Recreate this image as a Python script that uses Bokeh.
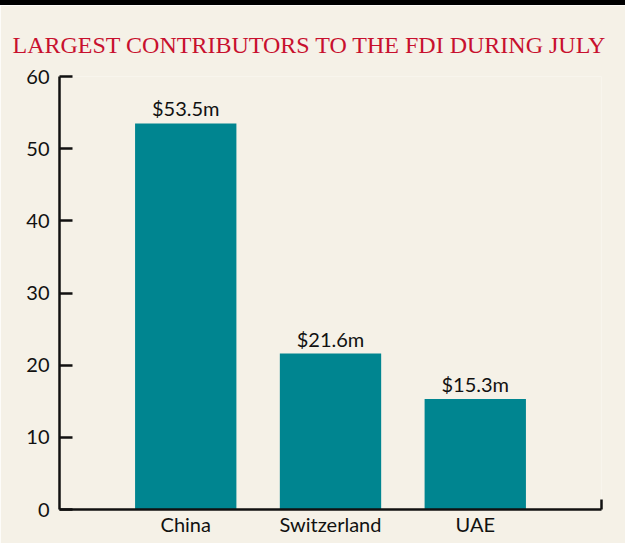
from bokeh.plotting import figure
from bokeh.models import (FactorRange, Range1d, LinearAxis, ColumnDataSource, FixedTicker, Title)
from bokeh.embed import file_html
from bokeh.resources import INLINE

countries = ["China", "Switzerland", "UAE"]
fdi_musd = [53.5, 21.6, 15.3]
bar_labels = ["$53.5m", "$21.6m", "$15.3m"]
y_ticks = [0, 10, 20, 30, 40, 50, 60]
title_text = "LARGEST CONTRIBUTORS TO THE FDI DURING JULY"

BG = "#f5f1e7"
TEAL = "#008590"
RED = "#c8102e"
INK = "#111111"
FONT = "Lato"

src = ColumnDataSource(dict(x=countries, top=fdi_musd, label=bar_labels))

p = figure(
    width=625, height=543,
    x_range=FactorRange(*countries, range_padding=0.372, range_padding_units="absolute"),
    y_range=Range1d(0, 60),
    output_backend="svg", toolbar_location=None,
    background_fill_color=BG, border_fill_color=BG,
    min_border_left=59, min_border_right=24, min_border_top=71, min_border_bottom=39,
    outline_line_color=None,
    styles={"border-top": "5px solid #000000"},
)

p.vbar(x="x", top="top", width=0.70, source=src, fill_color=TEAL, line_color=None)
p.text(x="x", y="top", text="label", source=src, text_align="center",
       text_baseline="bottom", y_offset=-3, text_font_size="20px",
       text_color=INK, text_font={"value": FONT})

p.grid.visible = False

# y axis
ya = p.yaxis[0]
ya.ticker = FixedTicker(ticks=y_ticks)
ya.major_tick_in = 13
ya.major_tick_out = 0
ya.minor_tick_line_color = None
ya.axis_line_width = 2.5
ya.major_tick_line_width = 2.5
ya.axis_line_color = INK
ya.major_tick_line_color = INK
ya.major_label_text_font = FONT
ya.major_label_text_font_size = "20px"
ya.major_label_text_color = INK
ya.major_label_standoff = 10

# x axis
xa = p.xaxis[0]
xa.major_tick_line_color = None
xa.minor_tick_line_color = None
xa.major_tick_in = 0
xa.major_tick_out = 0
xa.axis_line_width = 2.5
xa.axis_line_color = INK
xa.major_label_text_font = FONT
xa.major_label_text_font_size = "20px"
xa.major_label_text_color = INK
xa.major_label_standoff = 2

# small end tick at right of x axis
ra = LinearAxis(bounds=(0, 1.4), ticker=FixedTicker(ticks=[]),
                major_tick_line_color=None, minor_tick_line_color=None,
                major_tick_in=0, major_tick_out=0,
                axis_line_width=2.5, axis_line_color=INK)
p.add_layout(ra, "right")

# title
t = Title(text=title_text, text_font="Liberation Serif", text_font_size="24px",
          text_color=RED, text_font_style="normal", align="left", offset=-47,
          standoff=34, vertical_align="top")
p.add_layout(t, "above")
p.title.visible = False

open("out.html", "w").write(file_html(p, INLINE))
